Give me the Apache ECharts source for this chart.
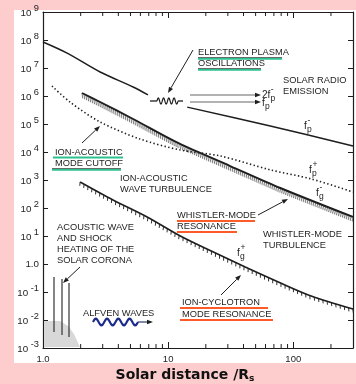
<!DOCTYPE html>
<html><head><meta charset="utf-8">
<script src="https://cdn.jsdelivr.net/npm/echarts@6/dist/echarts.min.js"></script>
<style>
html,body{margin:0;padding:0;background:#fdcccc;}
#panel{position:absolute;left:14px;top:10px;width:342px;height:353px;background:#fff;}
#chart{position:absolute;left:0;top:0;width:356px;height:384px;}
</style></head><body>
<div id="panel"></div><div id="chart"></div>
<script>
// ---- data ----
const xTickValues = [1, 10, 100];
const xTickLabels = ['1.0', '10', '100'];
const xMinorTicks = [2, 3, 4, 5, 6, 7, 8, 9, 20, 30, 40, 50, 60, 70, 80, 90, 200];
const yTickExponents = [-3, -2, -1, 0, 1, 2, 3, 4, 5, 6, 7, 8, 9];
// electron plasma frequency f_p^- (solid), split by the oscillation symbol
const fpMinusInner = [[1.0, 8.5e7], [1.56, 3.4e7], [2.86, 7.2e6], [5.25, 2.1e6], [6.9, 1.09e6]];
const fpMinusOuter = [[14.2, 4.0e5], [65.5, 8.5e4], [300, 1.64e4]];
// ion plasma frequency f_p^+ (dotted)
const fpPlus = [[1.18, 2.28e6], [1.64, 6.1e5], [2.86, 1.18e5], [5.97, 2.9e4], [12.5, 1.18e4], [26.1, 7.2e3], [65.5, 2.3e3], [139, 1.09e3], [300, 373]];
// electron gyrofrequency f_g^- (hatched)
const fgMinus = [[2.05, 1.28e6], [2.86, 6.1e5], [5.25, 1.51e5], [12.0, 2.1e4], [31.3, 3.16e3], [78.7, 518], [300, 47.8]];
// ion gyrofrequency f_g^+ (hatched)
const fgPlus = [[1.98, 849], [3.63, 193], [6.79, 47.7], [12.5, 10], [22.1, 2.91], [41.3, 0.78], [75.9, 0.228], [139, 0.072], [300, 0.0247]];

const FONT = '"Liberation Sans", Arial, sans-serif';
const INK = '#1e1e1e';

function hatchRender(curve, spacing, normal, along, width, color) {
  return function (params, api) {
    const pts = curve.map(d => api.coord(d));
    const children = [];
    let carry = 0;
    for (let i = 0; i < pts.length - 1; i++) {
      const x1 = pts[i][0], y1 = pts[i][1], x2 = pts[i + 1][0], y2 = pts[i + 1][1];
      const dx = x2 - x1, dy = y2 - y1, L = Math.hypot(dx, dy);
      const tx = dx / L, ty = dy / L, nx = -ty, ny = tx;
      let s = carry;
      while (s < L) {
        const px = x1 + tx * s, py = y1 + ty * s;
        children.push({type: 'line', shape: {x1: px, y1: py, x2: px + nx * normal + tx * along, y2: py + ny * normal + ty * along},
          style: {stroke: color, lineWidth: width}});
        s += spacing;
      }
      carry = s - L;
    }
    return {type: 'group', children: children};
  };
}

function minorTickRender(params, api) {
  const v = api.value(0);
  const b = api.coord([v, 1e-3]);
  const t = api.coord([v, 1e9]);
  return {type: 'group', children: [
    {type: 'line', shape: {x1: b[0], y1: b[1], x2: b[0], y2: b[1] - 4}, style: {stroke: INK, lineWidth: 1}},
    {type: 'line', shape: {x1: t[0], y1: t[1], x2: t[0], y2: t[1] + 4}, style: {stroke: INK, lineWidth: 1}}
  ]};
}

// ---- annotation helpers ----
const G = [];
function txt(x, y, s, size, opts) {
  G.push(Object.assign({type: 'text', x: x, y: y, z: 50, silent: true,
    style: {text: s, font: (size || 9.3) + 'px ' + FONT, fill: INK, align: 'left', verticalAlign: 'middle'}}, opts || {}));
}
function line(x1, y1, x2, y2, color, w) {
  G.push({type: 'line', z: 50, silent: true, shape: {x1: x1, y1: y1, x2: x2, y2: y2}, style: {stroke: color || INK, lineWidth: w || 1}});
}
function arrow(x1, y1, x2, y2, color, w, hl, hw) {
  color = color || INK; hl = hl || 6; hw = hw || 2.3;
  const dx = x2 - x1, dy = y2 - y1, L = Math.hypot(dx, dy), tx = dx / L, ty = dy / L;
  const bx = x2 - tx * hl, by = y2 - ty * hl;
  line(x1, y1, bx, by, color, w || 1);
  G.push({type: 'polygon', z: 51, silent: true, shape: {points: [[x2, y2], [bx - ty * hw, by + tx * hw], [bx + ty * hw, by - tx * hw]]}, style: {fill: INK}});
}
function uline(x, y, w, color, black) {
  if (black) line(x, y, x + w, y, '#444', 0.8);
  line(x, y + (black ? 1.4 : 0), x + w, y + (black ? 1.4 : 0), color, 1.8);
}
function fLabel(x, y, pre, w, sub, sup) {
  txt(x, y, pre, 10);
  if (sub) txt(x + w + 0.3, y + 4, sub, 8.5);
  if (sup) txt(x + w + 0.6, y - 5, sup, 8.5);
}
function wave(x0, x1, yc, amp, cycles, color, w) {
  const pts = [];
  const n = 80;
  for (let i = 0; i <= n; i++) {
    const x = x0 + (x1 - x0) * i / n;
    pts.push([x, yc - amp * Math.sin(2 * Math.PI * cycles * i / n)]);
  }
  G.push({type: 'polyline', z: 50, silent: true, shape: {points: pts}, style: {stroke: color, lineWidth: w, fill: null}});
}

// electron plasma oscillations
line(150, 101, 157, 101, INK, 1.3);
wave(157, 178, 101, 3, 4, INK, 1.2);
line(178, 101, 183, 101, INK, 1.3);
arrow(193, 50, 168, 93, INK, 1);
txt(198, 52, 'ELECTRON PLASMA');
txt(198, 63, 'OSCILLATIONS');
uline(198, 57.5, 84, '#2cc290', true);
uline(198, 68.5, 63, '#2cc290', true);
arrow(190, 95, 261, 95, '#666', 1.2);
arrow(190, 102, 261, 102, '#666', 1.2);
fLabel(262, 95, '2f', 8.2, 'p', '-');
fLabel(262, 103, 'f', 2.8, 'p', null);
txt(283, 80, 'SOLAR RADIO');
txt(283, 91, 'EMISSION');
fLabel(304, 126, 'f', 2.8, 'p', '-');
fLabel(309, 170, 'f', 2.8, 'p', '+');
fLabel(316, 193, 'f', 2.8, 'g', '-');
fLabel(237, 253, 'f', 2.8, 'g', '+');

// ion-acoustic cutoff
txt(55, 152, 'ION-ACOUSTIC');
txt(55, 163, 'MODE CUTOFF');
uline(53, 157.5, 70, '#2cc290', false);
uline(52, 168.5, 69, '#2cc290', true);
arrow(82, 143, 100, 126, INK, 1);
txt(120, 178, 'ION-ACOUSTIC');
txt(120, 189, 'WAVE TURBULENCE');

// whistler
txt(177, 215, 'WHISTLER-MODE');
txt(177, 226, 'RESONANCE');
uline(177, 221, 78, '#ff5a2a', false);
uline(177, 232, 60, '#ff5a2a', false);
arrow(258, 215, 288, 199, INK, 1);
txt(263, 234, 'WHISTLER-MODE');
txt(263, 245, 'TURBULENCE');

// ion cyclotron
txt(182, 302, 'ION-CYCLOTRON');
txt(182, 314, 'MODE RESONANCE');
uline(180, 308, 88, '#ff5a2a', false);
uline(180, 320, 93, '#ff5a2a', false);
arrow(221, 295, 241, 275, INK, 1);

// acoustic wave heating
txt(57, 227, 'ACOUSTIC WAVE');
txt(57, 238, 'AND SHOCK');
txt(57, 249, 'HEATING OF THE');
txt(57, 260, 'SOLAR CORONA');
arrow(80, 267, 63, 283, INK, 1);
G.push({type: 'polygon', z: 1, silent: true, shape: {points: [[44, 321], [60, 321], [68, 326], [74, 334], [80, 347], [44, 347]]}, style: {fill: '#d8d8d8'}});
line(54, 277, 54, 332, '#333', 1.2);
line(62, 279, 62, 335, '#333', 1.2);
line(69, 283, 69, 337, '#333', 1.2);

// alfven waves
txt(83, 313, 'ALFVEN WAVES');
wave(93, 138, 322, 3.3, 4, '#1b2a8c', 2.2);
arrow(138, 322, 153, 322, '#3b4a7a', 1.3);

// x axis title
G.push({type: 'text', x: 185, y: 375, z: 50, silent: true, style: {
  text: '{a|Solar distance /R}{s|s}', align: 'center', verticalAlign: 'middle',
  rich: {a: {font: 'bold 14px "DejaVu Sans", sans-serif', fill: '#111'}, s: {font: 'bold 9px "DejaVu Sans", sans-serif', fill: '#111', padding: [7, 0, 0, 0]}}}});

const yFmt = v => {
  const e = Math.round(Math.log10(v));
  if (yTickExponents.indexOf(e) < 0) return '';
  if (e === 0) return '1.0';
  return '{b|10}{s|' + e + '}';
};
const xFmt = v => {
  const i = xTickValues.findIndex(t => Math.abs(t - v) / t < 1e-6);
  return i >= 0 ? xTickLabels[i] : '';
};

const axisCommon = {
  type: 'log', logBase: 10,
  axisLine: {show: true, lineStyle: {color: INK, width: 1.2}},
  splitLine: {show: false},
  axisTick: {show: true, inside: true, length: 6, lineStyle: {color: INK, width: 1}}
};

const chart = echarts.init(document.getElementById('chart'), null, {renderer: 'canvas'});
chart.setOption({
  animation: false,
  backgroundColor: 'transparent',
  grid: {left: 43, right: 3, top: 12, bottom: 36, show: false},
  xAxis: [
    Object.assign({}, axisCommon, {min: 1, max: 300, position: 'bottom', interval: 1,
      axisLabel: {formatter: xFmt, fontSize: 9.5, fontFamily: FONT, color: INK, margin: 6, showMaxLabel: false}}),
    Object.assign({}, axisCommon, {min: 1, max: 300, position: 'top', interval: 1, axisLabel: {show: false}})
  ],
  yAxis: [
    Object.assign({}, axisCommon, {min: 1e-3, max: 1e9, position: 'left', interval: 1, axisTick: {show: true, inside: true, length: 5, lineStyle: {color: INK}},
      axisLabel: {formatter: yFmt, margin: 4, fontSize: 9.8, fontFamily: FONT, color: INK,
        rich: {b: {fontSize: 9.8, fontFamily: FONT, color: INK, padding: [3, 0, 0, 0]},
               s: {fontSize: 9.3, fontFamily: FONT, color: INK, padding: [0, 0, 8, 2.5]}}}}),
    Object.assign({}, axisCommon, {min: 1e-3, max: 1e9, position: 'right', interval: 1, axisTick: {show: true, inside: true, length: 5, lineStyle: {color: INK}}, axisLabel: {show: false}})
  ],
  series: [
    {type: 'custom', xAxisIndex: 0, yAxisIndex: 0, data: xMinorTicks.map(v => [v, 1]), renderItem: minorTickRender, silent: true, clip: false, z: 3},
    {type: 'line', data: fpMinusInner, showSymbol: false, symbol: 'none', smooth: 0.3, lineStyle: {color: INK, width: 1.5}, silent: true},
    {type: 'line', data: fpMinusOuter, showSymbol: false, symbol: 'none', smooth: 0.3, lineStyle: {color: INK, width: 1.5}, silent: true},
    {type: 'line', data: fpPlus, showSymbol: false, symbol: 'none', smooth: 0.3, lineStyle: {color: INK, width: 1.6, type: [1.4, 2.4]}, silent: true},
    {type: 'line', data: fgMinus, showSymbol: false, symbol: 'none', smooth: 0.3, lineStyle: {color: INK, width: 1.9}, silent: true},
    {type: 'line', data: fgPlus, showSymbol: false, symbol: 'none', smooth: 0.3, lineStyle: {color: INK, width: 1.6}, silent: true},
    {type: 'custom', data: [[10, 1]], renderItem: hatchRender(fgMinus, 2.2, 4.5, 3, 0.7, '#444'), silent: true, clip: false, z: 2},
    {type: 'custom', data: [[10, 1]], renderItem: hatchRender(fgPlus, 4.5, 3.5, 1.5, 1, '#333'), silent: true, clip: false, z: 2}
  ],
  graphic: {elements: G}
});
</script>
</body></html>
